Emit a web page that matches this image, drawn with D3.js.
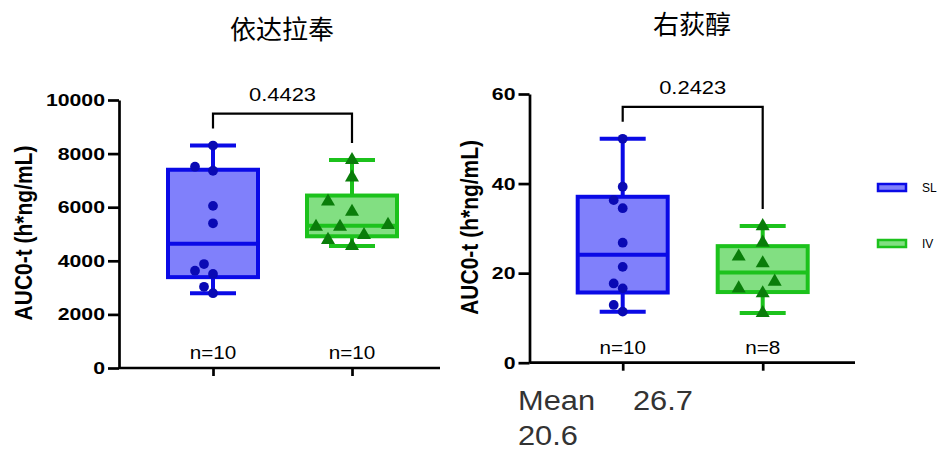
<!DOCTYPE html>
<html lang="en">
<head>
<meta charset="UTF-8">
<title>AUC0-t box plots</title>
<style>
  * { margin: 0; padding: 0; }
  body { background: #fff; }
  svg text { font-family: "Liberation Sans", Arial, sans-serif; }
</style>
</head>
<body>
<div id="container"></div>
<script src="https://cdn.jsdelivr.net/npm/d3@7"></script>
<script>
"use strict";

// data
const groups = ["SL", "IV"];
const titles = ["依达拉奉", "右荻醇"];
const edaravoneSL = [8300, 7510, 7360, 6050, 5400, 3880, 3630, 3510, 3030, 2790];
const edaravoneIV = [7760, 7110, 6210, 5830, 5340, 5270, 5270, 4960, 4780, 4550];
const dexborneolSL = [50.0, 39.3, 36.3, 34.5, 26.8, 21.4, 17.7, 16.6, 12.9, 11.4];
const dexborneolIV = [30.5, 26.8, 23.7, 22.2, 18.1, 16.6, 15.5, 11.1];
const pValues = ["0.4423", "0.2423"];
const leftTicks = [0, 2000, 4000, 6000, 8000, 10000];
const rightTicks = [0, 20, 40, 60];
const yLabel = "AUC0-t (h*ng/mL)";

const colors = {
  SL: { stroke: "#0a0ae6", fill: "#8080fb", dot: "#0a0ab4" },
  IV: { stroke: "#1cc21c", fill: "#82df82", dot: "#0a7d0a" }
};

const svg = d3.select("#container").append("svg")
  .attr("width", 943).attr("height", 452);

// text helper: horizontally stretched like the source image
function label(g, x, y, str, size, opts) {
  opts = opts || {};
  return g.append("text")
    .attr("transform", `translate(${x},${y}) scale(${opts.sx || 1},1)`)
    .attr("text-anchor", opts.anchor || "middle")
    .attr("font-size", size)
    .attr("font-weight", opts.weight || 400)
    .attr("fill", opts.fill || "#000")
    .style("font-family", opts.family || null)
    .text(str);
}

// GraphPad style quartiles: (n+1)p
function quant(sorted, p) {
  const pos = (sorted.length + 1) * p - 1;
  const lo = Math.max(0, Math.floor(pos)), hi = Math.min(sorted.length - 1, lo + 1);
  return sorted[lo] + (pos - lo) * (sorted[hi] - sorted[lo]);
}

// simple beeswarm spread for the scatter points
function swarm(values, y, step, minDist) {
  const placed = [];
  const order = values.map((v, i) => i).sort((a, b) => values[a] - values[b]);
  const out = new Array(values.length);
  order.forEach(i => {
    const py = y(values[i]);
    for (let k = 0; k < 20; k++) {
      const off = k === 0 ? 0 : (k % 2 ? -1 : 1) * Math.ceil(k / 2) * step;
      const ok = placed.every(p => Math.hypot(p[0] - off, p[1] - py) >= minDist);
      if (ok) { placed.push([off, py]); out[i] = off; break; }
    }
  });
  return out;
}

function panel(cfg) {
  const g = svg.append("g");
  const y = d3.scaleLinear().domain(cfg.domain).range([cfg.bottom, cfg.top]);
  const x = d3.scalePoint().domain(groups).range(cfg.xr);

  // y axis
  const ya = g.append("g")
    .attr("transform", `translate(${cfg.left},0)`)
    .call(d3.axisLeft(y).tickValues(cfg.ticks).tickSize(11).tickPadding(3).tickSizeOuter(0).tickFormat(d3.format("d")));
  ya.select(".domain").attr("stroke-width", 2.7);
  ya.selectAll(".tick line").attr("stroke-width", 2.7);
  ya.selectAll(".tick text")
    .attr("font-size", 17).attr("font-weight", 700)
    .attr("x", -14 / 1.25)
    .attr("transform", "scale(1.25,1)")
    .style("font-family", "'Liberation Sans', Arial, sans-serif");

  // x axis
  const xa = g.append("g")
    .attr("transform", `translate(0,${cfg.bottom})`)
    .call(d3.axisBottom(x).tickSize(8).tickSizeOuter(0).tickFormat(""));
  xa.select(".domain").attr("d", `M${cfg.left},0H${cfg.right}`).attr("stroke-width", 2.7);
  xa.selectAll(".tick line").attr("stroke-width", 2.7);

  // y label
  g.append("text")
    .attr("transform", `translate(${cfg.labelX},${(cfg.top + cfg.bottom) / 2 - 1}) rotate(-90) scale(1,1.12)`)
    .attr("text-anchor", "middle")
    .attr("font-size", 21).attr("font-weight", 700)
    .text(yLabel);

  // title
  label(g, cfg.titleX, cfg.titleY, cfg.title, 26, { family: "'Noto Sans CJK SC', sans-serif" });

  const boxW = 90, capW = 46;
  const series = [cfg.sl, cfg.iv];
  const tops = [];
  series.forEach((vals, gi) => {
    const name = groups[gi];
    const c = colors[name];
    const s = vals.slice().sort(d3.ascending);
    const q1 = quant(s, 0.25), med = quant(s, 0.5), q3 = quant(s, 0.75);
    const mn = s[0], mx = s[s.length - 1];
    const cx = x(name);
    tops.push(y(mx));
    const bg = g.append("g");
    bg.append("line").attr("x1", cx).attr("x2", cx).attr("y1", y(mx)).attr("y2", y(q3))
      .attr("stroke", c.stroke).attr("stroke-width", 4);
    bg.append("line").attr("x1", cx).attr("x2", cx).attr("y1", y(q1)).attr("y2", y(mn))
      .attr("stroke", c.stroke).attr("stroke-width", 4);
    [mn, mx].forEach(v => bg.append("line")
      .attr("x1", cx - capW / 2).attr("x2", cx + capW / 2).attr("y1", y(v)).attr("y2", y(v))
      .attr("stroke", c.stroke).attr("stroke-width", 4));
    bg.append("rect")
      .attr("x", cx - boxW / 2).attr("width", boxW)
      .attr("y", y(q3)).attr("height", y(q1) - y(q3))
      .attr("fill", c.fill).attr("stroke", c.stroke).attr("stroke-width", 4);
    bg.append("line").attr("x1", cx - boxW / 2).attr("x2", cx + boxW / 2).attr("y1", y(med)).attr("y2", y(med))
      .attr("stroke", c.stroke).attr("stroke-width", 4);

    // points
    const offs = name === "SL" ? swarm(vals, y, 9, 10) : swarm(vals, y, 12, 16);
    const sym = d3.symbol().type(name === "SL" ? d3.symbolCircle : d3.symbolTriangle)
      .size(name === "SL" ? 75 : 85);
    g.selectAll(null).data(vals).join("path")
      .attr("d", sym)
      .attr("transform", (d, i) => `translate(${cx + offs[i]},${y(d)})`)
      .attr("fill", c.dot);

    // n label
    label(g, cx, cfg.bottom - 9, "n=" + vals.length, 18, { sx: 1.15 });
  });

  // significance bracket
  const legs = tops.map(t => t - 17);
  const by = Math.min(...legs) - 15;
  g.append("path")
    .attr("d", `M${x("SL")},${legs[0]}V${by}H${x("IV")}V${legs[1]}`)
    .attr("fill", "none").attr("stroke", "#000").attr("stroke-width", 2.2);
  label(g, (x("SL") + x("IV")) / 2, by - 12.5, cfg.p, 18, { sx: 1.22 });

  return g;
}

panel({
  domain: [0, 10000], ticks: leftTicks, top: 100, bottom: 368, left: 119, right: 440,
  xr: [213, 352], labelX: 32, titleX: 282, titleY: 39, title: titles[0],
  sl: edaravoneSL, iv: edaravoneIV, p: pValues[0]
});

panel({
  domain: [0, 60], ticks: rightTicks, top: 94, bottom: 362.7, left: 529.5, right: 855,
  xr: [622.7, 762.7], labelX: 478, titleX: 692, titleY: 34, title: titles[1],
  sl: dexborneolSL, iv: dexborneolIV, p: pValues[1]
});

// legend
const lg = svg.append("g");
groups.forEach((name, i) => {
  const yy = 184 + i * 56;
  lg.append("rect").attr("x", 878).attr("y", yy).attr("width", 28).attr("height", 7)
    .attr("fill", colors[name].fill).attr("stroke", colors[name].stroke).attr("stroke-width", 2.5);
  label(lg, 922, yy + 8, name, 12, { anchor: "start" });
});

// mean annotation
const fmt = d3.format(".1f");
const note = svg.append("g");
label(note, 518, 410, "Mean", 28, { anchor: "start", sx: 1.1, fill: "#333" });
label(note, 633, 410, fmt(d3.mean(dexborneolSL)), 28, { anchor: "start", sx: 1.1, fill: "#333" });
label(note, 518, 445, fmt(d3.mean(dexborneolIV)), 28, { anchor: "start", sx: 1.1, fill: "#333" });
</script>
</body>
</html>
